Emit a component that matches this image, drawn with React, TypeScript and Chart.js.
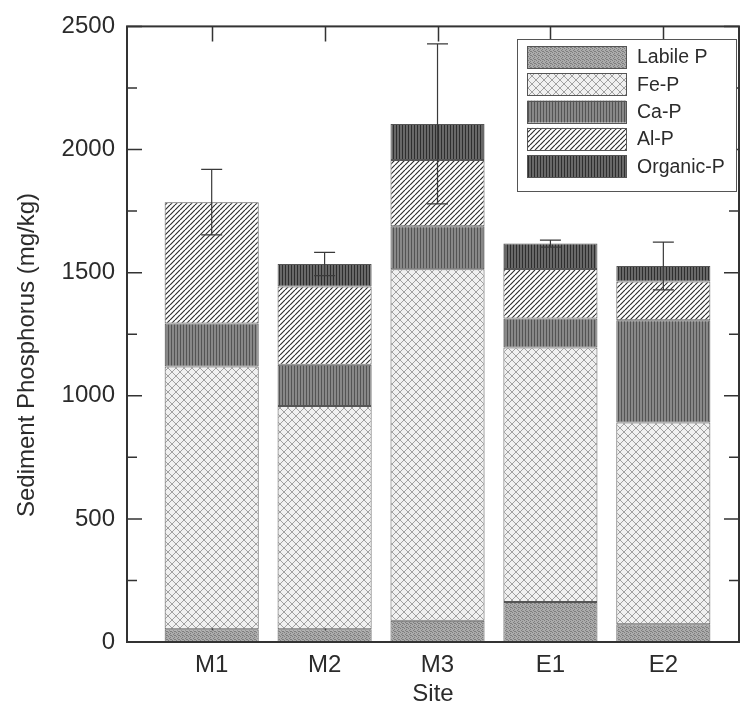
import React, { useEffect, useRef } from "react";
import { Chart, registerables } from "chart.js";

Chart.register(...registerables);

// Sediment phosphorus fractions (mg/kg) by site
const sites = ["M1", "M2", "M3", "E1", "E2"];
const labileP = [52, 52, 86, 162, 72];
const feP = [1067, 906, 1428, 1034, 819];
const caP = [174, 168, 174, 118, 416];
const alP = [493, 318, 269, 201, 157];
const organicP: (number | null)[] = [null, 91, 147, 103, 63];
// standard deviation of total phosphorus
const totalError = [133, 47, 325, 14, 97];
const yTickValues = [0, 500, 1000, 1500, 2000, 2500];

const FONT = '"Liberation Sans", Arial, sans-serif';
const TEXT = "#2b2b2b";
const LINE = "#333333";

function makePattern(
  ctx: CanvasRenderingContext2D,
  w: number,
  h: number,
  draw: (c: CanvasRenderingContext2D) => void
): CanvasPattern {
  const tile = document.createElement("canvas");
  tile.width = w;
  tile.height = h;
  const c = tile.getContext("2d")!;
  draw(c);
  return ctx.createPattern(tile, "repeat")!;
}

function buildPatterns(ctx: CanvasRenderingContext2D) {
  const stipple = makePattern(ctx, 4, 4, (c) => {
    c.fillStyle = "#ababab";
    c.fillRect(0, 0, 4, 4);
    c.fillStyle = "#7e7e7e";
    [[0, 0], [2, 1], [1, 2], [3, 3], [2, 3]].forEach(([x, y]) => c.fillRect(x, y, 1, 1));
  });
  const crosshatch = makePattern(ctx, 8, 8, (c) => {
    c.fillStyle = "#f0f0f0";
    c.fillRect(0, 0, 8, 8);
    c.strokeStyle = "#a0a0a0";
    c.lineWidth = 1;
    c.beginPath();
    for (const k of [-8, 0, 8]) {
      c.moveTo(k, 8);
      c.lineTo(k + 8, 0);
      c.moveTo(k, 0);
      c.lineTo(k + 8, 8);
    }
    c.stroke();
  });
  const vertMid = makePattern(ctx, 3, 3, (c) => {
    c.fillStyle = "#888888";
    c.fillRect(0, 0, 3, 3);
    c.fillStyle = "#545454";
    c.fillRect(0, 0, 1, 3);
  });
  const diagonal = makePattern(ctx, 5, 5, (c) => {
    c.fillStyle = "#ffffff";
    c.fillRect(0, 0, 5, 5);
    c.strokeStyle = "#2e2e2e";
    c.lineWidth = 1.2;
    c.beginPath();
    for (const k of [-5, 0, 5]) {
      c.moveTo(k, 5);
      c.lineTo(k + 5, 0);
    }
    c.stroke();
  });
  const vertDark = makePattern(ctx, 3, 3, (c) => {
    c.fillStyle = "#686868";
    c.fillRect(0, 0, 3, 3);
    c.fillStyle = "#2e2e2e";
    c.fillRect(0, 0, 1, 3);
  });
  return { stipple, crosshatch, vertMid, diagonal, vertDark };
}

const points = (vals: (number | null)[]) => vals.map((v, i) => ({ x: i + 1, y: v }));

// Box frame with inward ticks on all four sides
const framePlugin = {
  id: "frameTicks",
  beforeDatasetsDraw(chart: any) {
    const { ctx, chartArea: a, scales } = chart;
    const x = scales.x;
    ctx.save();
    ctx.strokeStyle = LINE;
    ctx.lineWidth = 1.5;
    ctx.beginPath();
    sites.forEach((_, i) => {
      const px = Math.round(x.getPixelForValue(i + 1)) + 0.5;
      ctx.moveTo(px, a.bottom);
      ctx.lineTo(px, a.bottom - 15);
    });
    ctx.stroke();
    ctx.restore();
  },
  afterDatasetsDraw(chart: any) {
    const { ctx, chartArea: a, scales } = chart;
    const x = scales.x;
    const y = scales.y;
    ctx.save();
    ctx.strokeStyle = LINE;
    ctx.lineWidth = 1.5;
    ctx.beginPath();
    // top ticks at each site
    sites.forEach((_, i) => {
      const px = Math.round(x.getPixelForValue(i + 1)) + 0.5;
      ctx.moveTo(px, a.top);
      ctx.lineTo(px, a.top + 15);
    });
    // major and minor y ticks on both sides
    for (let i = 0; i < yTickValues.length; i++) {
      const v = yTickValues[i];
      const py = y.getPixelForValue(v);
      ctx.moveTo(a.left, py);
      ctx.lineTo(a.left + 15, py);
      ctx.moveTo(a.right, py);
      ctx.lineTo(a.right - 15, py);
      if (i < yTickValues.length - 1) {
        const mv = (v + yTickValues[i + 1]) / 2;
        const pm = y.getPixelForValue(mv);
        ctx.moveTo(a.left, pm);
        ctx.lineTo(a.left + 10, pm);
        ctx.moveTo(a.right, pm);
        ctx.lineTo(a.right - 10, pm);
      }
    }
    ctx.stroke();
    ctx.lineWidth = 2;
    ctx.strokeRect(a.left, a.top, a.right - a.left, a.bottom - a.top);

    // error bars on stacked totals
    ctx.strokeStyle = "#3a3a3a";
    ctx.lineWidth = 1.2;
    ctx.beginPath();
    sites.forEach((_, i) => {
      const total = [labileP, feP, caP, alP, organicP].reduce(
        (s, arr) => s + ((arr[i] as number | null) ?? 0),
        0
      );
      const px = x.getPixelForValue(i + 1);
      const up = y.getPixelForValue(total + totalError[i]);
      const dn = y.getPixelForValue(total - totalError[i]);
      ctx.moveTo(px, up);
      ctx.lineTo(px, dn);
      ctx.moveTo(px - 10.5, up);
      ctx.lineTo(px + 10.5, up);
      ctx.moveTo(px - 10.5, dn);
      ctx.lineTo(px + 10.5, dn);
    });
    ctx.stroke();
    ctx.restore();
  },
  afterDraw(chart: any) {
    const { ctx, chartArea: a } = chart;
    ctx.save();
    ctx.fillStyle = TEXT;
    ctx.font = `24px ${FONT}`;
    ctx.textAlign = "center";
    ctx.textBaseline = "middle";
    ctx.fillText("Site", (a.left + a.right) / 2, 694);
    ctx.translate(27, 355);
    ctx.rotate(-Math.PI / 2);
    ctx.fillText("Sediment Phosphorus (mg/kg)", 0, 0);
    ctx.restore();

    // legend box
    ctx.save();
    const lx = 517;
    const ly = 39;
    ctx.fillStyle = "#ffffff";
    ctx.fillRect(lx, ly, 219, 152);
    ctx.strokeStyle = "#555555";
    ctx.lineWidth = 1;
    ctx.strokeRect(lx + 0.5, ly + 0.5, 219, 152);
    ctx.font = `19.5px ${FONT}`;
    ctx.textAlign = "left";
    ctx.textBaseline = "middle";
    chart.data.datasets.forEach((ds: any, i: number) => {
      const top = 46 + i * 27.3;
      ctx.fillStyle = ds.backgroundColor;
      ctx.fillRect(527, top, 99, 22);
      ctx.strokeStyle = "#555555";
      ctx.strokeRect(527.5, Math.round(top) + 0.5, 99, 22);
      ctx.fillStyle = TEXT;
      ctx.fillText(ds.label, 637, top + 12);
    });
    ctx.restore();
  },
};

export default function App() {
  const ref = useRef<HTMLCanvasElement>(null);

  useEffect(() => {
    const canvas = ref.current!;
    const ctx = canvas.getContext("2d")!;
    const p = buildPatterns(ctx);
    const common = { stack: "P", borderColor: "#555555", borderWidth: 1, borderSkipped: false };

    const chart = new Chart(canvas, {
      type: "bar",
      data: {
        datasets: [
          { label: "Labile P", data: points(labileP), backgroundColor: p.stipple, ...common },
          { label: "Fe-P", data: points(feP), backgroundColor: p.crosshatch, ...common },
          { label: "Ca-P", data: points(caP), backgroundColor: p.vertMid, ...common },
          { label: "Al-P", data: points(alP), backgroundColor: p.diagonal, ...common },
          { label: "Organic-P", data: points(organicP), backgroundColor: p.vertDark, ...common },
        ] as any,
      },
      options: {
        responsive: false,
        devicePixelRatio: 1,
        animation: false,
        events: [],
        layout: { padding: { top: 21, right: 1, left: 0, bottom: 0 } },
        datasets: { bar: { barPercentage: 0.833, categoryPercentage: 1 } },
        plugins: { legend: { display: false }, tooltip: { enabled: false } },
        scales: {
          x: {
            type: "linear",
            offset: false,
            min: 0.25,
            max: 5.67,
            grid: { display: false, drawTicks: false },
            border: { display: false },
            afterFit: (s: any) => {
              s.height = 70;
            },
            ticks: {
              stepSize: 1,
              includeBounds: false,
              autoSkip: false,
              maxRotation: 0,
              padding: 9,
              color: TEXT,
              font: { family: FONT, size: 24 },
              callback: (v: any) => sites[Number(v) - 1] ?? "",
            },
          },
          y: {
            stacked: true,
            min: 0,
            max: 2500,
            grid: { display: false, drawTicks: false },
            border: { display: false },
            afterFit: (s: any) => {
              s.width = 127;
            },
            afterBuildTicks: (s: any) => {
              s.ticks = yTickValues.map((v) => ({ value: v }));
            },
            ticks: {
              padding: 12,
              color: TEXT,
              font: { family: FONT, size: 24 },
              callback: (v: any) => String(v),
            },
          },
        },
      } as any,
      plugins: [framePlugin],
    });
    return () => chart.destroy();
  }, []);

  return (
    <div style={{ position: "absolute", left: 0, top: 0, width: 740, height: 712, background: "#fff" }}>
      <canvas ref={ref} width={740} height={712} style={{ display: "block" }} />
    </div>
  );
}
